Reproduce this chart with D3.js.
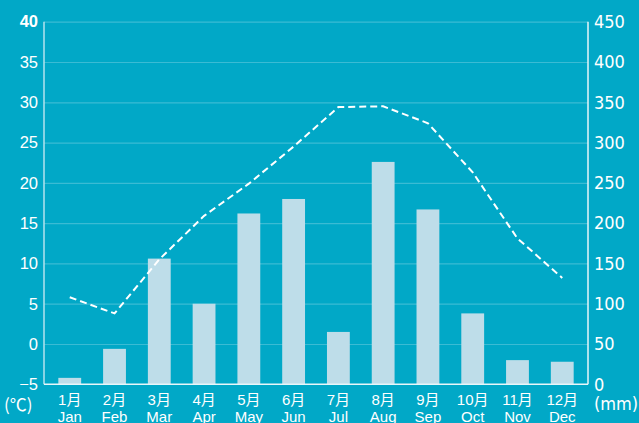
<!DOCTYPE html>
<html>
<head>
<meta charset="utf-8">
<script src="https://cdn.jsdelivr.net/npm/d3@7"></script>
<style>
	html, body { margin: 0; padding: 0; background: #01a8c7; overflow: hidden; }
	svg { display: block; }
	.axis .domain { display: none; }
</style>
</head>
<body>
<script>
var monthsJa = ['1月', '2月', '3月', '4月', '5月', '6月', '7月', '8月', '9月', '10月', '11月', '12月'];
var monthsEn = ['Jan', 'Feb', 'Mar', 'Apr', 'May', 'Jun', 'Jul', 'Aug', 'Sep', 'Oct', 'Nov', 'Dec'];
var rainfall = [8, 44, 156, 100, 212, 230, 65, 276, 217, 88, 30, 28]; // mm
var temperature = [5.8, 3.8, 10.5, 15.9, 19.9, 24.5, 29.4, 29.5, 27.4, 21.3, 13.1, 8.2]; // ℃
var tempTicks = [-5, 0, 5, 10, 15, 20, 25, 30, 35, 40];
var rainTicks = [0, 50, 100, 150, 200, 250, 300, 350, 400, 450];

var W = 639, H = 423;
// window.top は読み取り専用なので別名にする
var plotL = 44, plotR = 588, plotT = 21.7, plotB = 384.3;

var svg = d3.select('body').append('svg').attr('width', W).attr('height', H);

var x = d3.scaleBand().domain(d3.range(12)).range([plotL, plotR]).paddingInner(0.49).paddingOuter(0.32);
var yT = d3.scaleLinear().domain([-5, 40]).range([plotB, plotT]);
var yR = d3.scaleLinear().domain([0, 450]).range([plotB, plotT]);

// 格線
svg.append('g').attr('class', 'axis grid')
	.attr('transform', 'translate(' + plotL + ',0)')
	.call(d3.axisLeft(yT).tickValues(tempTicks.slice(1)).tickSize(-(plotR - plotL)).tickFormat(''))
	.selectAll('line').attr('stroke', '#3bbbd4').attr('stroke-width', 1.2);

// 降水量 bars
svg.append('g').selectAll('rect').data(rainfall).enter().append('rect')
	.attr('x', (d, i) => x(i))
	.attr('y', d => yR(d))
	.attr('width', x.bandwidth())
	.attr('height', d => yR(0) - yR(d))
	.attr('fill', '#bedde9');

// 気温 line
var line = d3.line().x((d, i) => x(i) + x.bandwidth() / 2).y(d => yT(d));
svg.append('path').datum(temperature)
	.attr('d', line)
	.attr('fill', 'none')
	.attr('stroke', '#ffffff')
	.attr('stroke-width', 2)
	.attr('stroke-dasharray', '7,4');

// 軸線
svg.append('line').attr('x1', plotL).attr('x2', plotL).attr('y1', plotT).attr('y2', plotB).attr('stroke', '#b5e3ee').attr('stroke-width', 1.5);
svg.append('line').attr('x1', plotR).attr('x2', plotR).attr('y1', plotT).attr('y2', plotB).attr('stroke', '#e8f6fa').attr('stroke-width', 1.5);
svg.append('line').attr('x1', plotL).attr('x2', plotR).attr('y1', plotB).attr('y2', plotB).attr('stroke', '#e8f6fa').attr('stroke-width', 1.5);

// 左軸
var gl = svg.append('g').attr('class', 'axis')
	.attr('transform', 'translate(' + plotL + ',0)')
	.call(d3.axisLeft(yT).tickValues(tempTicks).tickSize(0).tickPadding(6).tickFormat(d3.format('d')));
gl.selectAll('text')
	.attr('fill', '#ffffff')
	.style('font-family', '"Liberation Sans", Arial, sans-serif')
	.style('font-size', '16.5px')
	.style('font-weight', d => d === 40 ? 'bold' : 'normal');

// 右軸
var gr = svg.append('g').attr('class', 'axis')
	.attr('transform', 'translate(' + plotR + ',0)')
	.call(d3.axisRight(yR).tickValues(rainTicks).tickSize(0).tickPadding(6).tickFormat(d3.format('d')));
gr.selectAll('text')
	.attr('fill', '#ffffff')
	.style('font-family', '"Liberation Sans Narrow", "DejaVu Sans Condensed", sans-serif')
	.style('font-size', '18px');

// 月 labels
var labels = svg.append('g').selectAll('g').data(d3.range(12)).enter().append('g')
	.attr('transform', i => 'translate(' + (x(i) + x.bandwidth() / 2) + ',0)');
labels.append('text')
	.attr('y', 404.5)
	.attr('text-anchor', 'middle')
	.attr('fill', '#ffffff')
	.style('font-family', '"Liberation Sans", "Noto Sans CJK JP", sans-serif')
	.style('font-size', '15px')
	.text(i => monthsJa[i]);
labels.append('text')
	.attr('y', 421.5)
	.attr('text-anchor', 'middle')
	.attr('fill', '#ffffff')
	.style('font-family', '"Liberation Sans", sans-serif')
	.style('font-size', '15px')
	.text(i => monthsEn[i]);

// 単位
svg.append('text').attr('x', 4).attr('y', 411).attr('fill', '#ffffff')
	.style('font-family', '"Noto Sans CJK JP", sans-serif').style('font-size', '17px').text('(℃)');
svg.append('text').attr('x', 594).attr('y', 410).attr('fill', '#ffffff')
	.style('font-family', '"Liberation Sans Narrow", "DejaVu Sans Condensed", sans-serif').style('font-size', '18px').text('(mm)');
</script>
</body>
</html>
